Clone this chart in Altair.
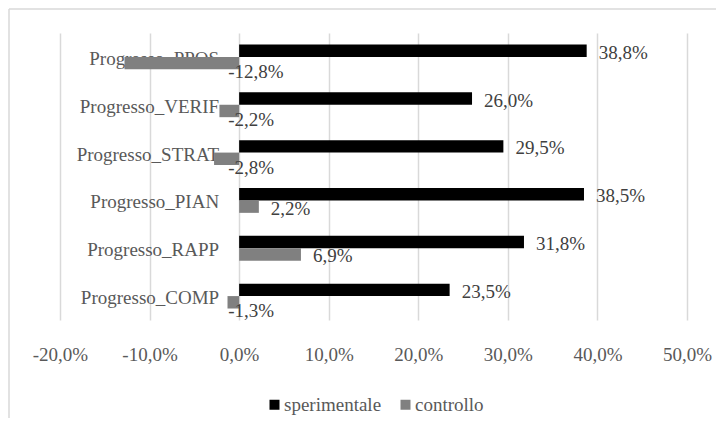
import altair as alt
import pandas as pd

categories = ["Progresso_PPOS", "Progresso_VERIF", "Progresso_STRAT",
              "Progresso_PIAN", "Progresso_RAPP", "Progresso_COMP"]
series = ["sperimentale", "controllo"]
sperimentale = [38.8, 26.0, 29.5, 38.5, 31.8, 23.5]
controllo = [-12.8, -2.2, -2.8, 2.2, 6.9, -1.3]
x_ticks = [-20, -10, 0, 10, 20, 30, 40, 50]

rows = []
for c, s, k in zip(categories, sperimentale, controllo):
    rows.append(dict(cat=c, serie="sperimentale", value=s))
    rows.append(dict(cat=c, serie="controllo", value=k))
df = pd.DataFrame(rows)
df["label"] = df["value"].map(lambda v: f"{v:.1f}".replace(".", ",") + "%")
df["zero"] = 0.0

cat_df = pd.DataFrame({"cat": categories, "zero": [0.0] * len(categories)})

FONT = "Liberation Serif"
AXIS_COLOR = "#595959"
LABEL_COLOR = "#404040"
GRID = "#D9D9D9"

x_scale = alt.Scale(domain=[-20, 50], nice=False, zero=False)
y_scale = alt.Scale(domain=categories, paddingInner=0.48, paddingOuter=0.24)
yoff_scale = alt.Scale(domain=series, paddingInner=0, paddingOuter=0)

x_axis = alt.Axis(
    values=x_ticks,
    labelExpr="(datum.value < 0 ? '-' : '') + replace(format(abs(datum.value), '.1f'), '.', ',') + '%'",
    grid=True, gridColor=GRID, gridWidth=1.5,
    domain=False, ticks=False, labelFlush=False, labelOverlap=False,
    labelFont=FONT, labelFontSize=19, labelColor=AXIS_COLOR,
    labelPadding=25, title=None,
)

Y = alt.Y("cat:N", scale=y_scale, axis=None, title=None)
YO = alt.YOffset("serie:N", scale=yoff_scale, sort=series)

bars = alt.Chart(df).mark_bar().encode(
    x=alt.X("value:Q", scale=x_scale, axis=x_axis, title=None),
    y=Y,
    yOffset=YO,
    color=alt.Color(
        "serie:N",
        scale=alt.Scale(domain=series, range=["#000000", "#808080"]),
        legend=alt.Legend(
            title=None, orient="none", legendX=205, legendY=362,
            direction="horizontal", symbolType="square", symbolSize=100,
            symbolStrokeWidth=0, labelFont=FONT, labelFontSize=19,
            labelColor=AXIS_COLOR, labelOffset=0, columnPadding=14, padding=0,
        ),
    ),
)

pos_labels = alt.Chart(df).transform_filter("datum.value >= 0").mark_text(
    align="left", baseline="middle", dx=12, dy=2,
    font=FONT, fontSize=19, color=LABEL_COLOR,
).encode(
    x=alt.X("value:Q", scale=x_scale, title=None),
    y=Y, yOffset=YO, text="label:N",
)

neg_labels = alt.Chart(df).transform_filter("datum.value < 0").mark_text(
    align="left", baseline="middle", dx=-11, dy=9,
    font=FONT, fontSize=19, color=LABEL_COLOR,
).encode(
    x=alt.X("zero:Q", scale=x_scale, title=None),
    y=Y, yOffset=YO, text="label:N",
)

cat_labels = alt.Chart(cat_df).mark_text(
    align="right", baseline="middle", dx=-20, dy=2,
    font=FONT, fontSize=19, color=AXIS_COLOR,
).encode(
    x=alt.X("zero:Q", scale=x_scale, title=None),
    y=Y, text="cat:N",
)

border_top = alt.Chart(alt.Data(values=[{}])).mark_rule(
    color=GRID, strokeWidth=1.5
).encode(x=alt.value(-51), x2=alt.value(720), y=alt.value(-24))

border_left = alt.Chart(alt.Data(values=[{}])).mark_rule(
    color=GRID, strokeWidth=1.5
).encode(x=alt.value(-51), y=alt.value(-24), y2=alt.value(400))

chart = alt.layer(
    border_top, border_left, cat_labels, bars, pos_labels, neg_labels
).properties(
    width=627, height=287,
    autosize=alt.AutoSizeParams(type="none"),
    padding={"left": 52, "top": 25, "right": 29, "bottom": 98},
).configure_view(strokeWidth=0)

chart.save("out.html", embed_options={"renderer": "svg", "actions": False})
